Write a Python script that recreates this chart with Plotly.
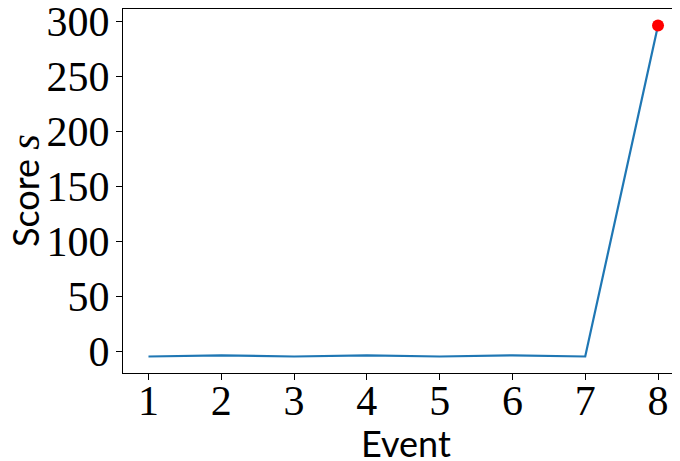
import plotly.graph_objects as go

events = [1, 2, 3, 4, 5, 6, 7, 8]
scores = [-5, -4, -5, -4, -5, -4, -5, 296]
last_event = [8]
last_score = [296]
x_ticks = [1, 2, 3, 4, 5, 6, 7, 8]
y_ticks = [0, 50, 100, 150, 200, 250, 300]

fig = go.Figure()
fig.add_trace(go.Scatter(x=events, y=scores, mode="lines",
                         line=dict(color="#1f77b4", width=2.2), showlegend=False))
fig.add_trace(go.Scatter(x=last_event, y=last_score, mode="markers",
                         marker=dict(color="red", size=12), showlegend=False))

serif = "Liberation Serif"
sans = "Lato"

# page has an 8px body margin; work in figure pixel coordinates
W, H = 680, 461
L, T, B = 115, 1, 96
plot_w = W - L
plot_h = H - T - B
px_per_unit = 72.79
x0 = 0.65
x1 = x0 + plot_w / px_per_unit

fig.update_layout(
    width=W, height=H,
    margin=dict(l=L, r=0, t=T, b=B),
    plot_bgcolor="white", paper_bgcolor="white",
    xaxis=dict(range=[x0, x1], tickvals=x_ticks, ticktext=[str(v) for v in x_ticks],
               automargin=False, ticklabeloverflow="allow",
               showgrid=False, zeroline=False, showline=True, linecolor="black", linewidth=1.2,
               mirror=True, ticks="outside", ticklen=6, tickcolor="black",
               ticklabelstandoff=-16,
               tickfont=dict(family=serif, size=42, color="black")),
    yaxis=dict(range=[-20, 311], tickvals=y_ticks, ticktext=[str(v) for v in y_ticks],
               automargin=False, ticklabeloverflow="allow",
               showgrid=False, zeroline=False, showline=True, linecolor="black", linewidth=1.2,
               mirror=False, ticks="outside", ticklen=6, tickcolor="black",
               ticklabelstandoff=-2,
               tickfont=dict(family=serif, size=42, color="black")),
    annotations=[
        dict(text="Event", x=0.5, xref="paper", y=-(435 - (H - B)) / plot_h, yref="paper",
             yanchor="middle", xanchor="center", showarrow=False,
             font=dict(family=sans, size=36, color="black")),
        dict(text="Score <span style='font-family:Liberation Serif;font-size:40px'><i>s</i></span>",
             x=-(L - 17) / plot_w, xref="paper", y=0.5, yref="paper", textangle=-90,
             xanchor="center", yanchor="middle", showarrow=False,
             font=dict(family=sans, size=36, color="black")),
    ],
)

fig.write_html("out.html")
